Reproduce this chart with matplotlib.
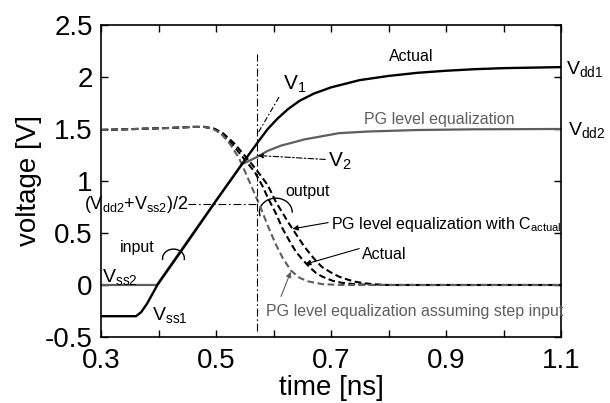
import matplotlib
matplotlib.use("Agg")
import matplotlib.pyplot as plt
from matplotlib.patches import Arc

plt.rcParams["font.family"] = ["Liberation Sans", "DejaVu Sans"]
plt.rcParams["mathtext.fontset"] = "custom"
plt.rcParams["mathtext.rm"] = "Liberation Sans"
plt.rcParams["axes.unicode_minus"] = False

GRAY = "#5e5e5e"

# input waveforms (solid)
t_in_actual = [0.30, 0.361, 0.37, 0.38, 0.398, 0.45, 0.50, 0.55, 0.575, 0.59, 0.607,
               0.625, 0.645, 0.67, 0.70, 0.75, 0.80, 0.85, 0.90, 0.95, 1.00, 1.05, 1.10]
v_in_actual = [-0.30, -0.30, -0.26, -0.18, 0.0, 0.41, 0.81, 1.20, 1.39, 1.50, 1.60,
               1.69, 1.77, 1.84, 1.90, 1.97, 2.01, 2.04, 2.06, 2.075, 2.085, 2.09, 2.095]

t_in_pg = [0.30, 0.397, 0.45, 0.50, 0.545, 0.56, 0.571, 0.59, 0.613, 0.654, 0.714,
           0.766, 0.85, 0.95, 1.10]
v_in_pg = [0.0, 0.0, 0.42, 0.81, 1.16, 1.20, 1.23, 1.29, 1.34, 1.40, 1.46,
           1.476, 1.49, 1.497, 1.50]

# output waveforms (dashed)
t_out_step = [0.30, 0.36, 0.42, 0.46, 0.48, 0.495, 0.51, 0.525, 0.54, 0.556, 0.567,
              0.578, 0.59, 0.604, 0.616, 0.63, 0.645, 0.66, 0.685, 0.72, 1.10]
v_out_step = [1.49, 1.50, 1.51, 1.52, 1.52, 1.50, 1.45, 1.35, 1.22, 1.02, 0.88,
              0.74, 0.57, 0.39, 0.26, 0.14, 0.07, 0.035, 0.008, 0.0, 0.0]

t_out_actual = [0.30, 0.36, 0.42, 0.46, 0.48, 0.498, 0.508, 0.529, 0.552, 0.567, 0.581,
                0.59, 0.604, 0.615, 0.627, 0.639, 0.651, 0.663, 0.674, 0.685, 0.703,
                0.72, 0.74, 0.77, 1.10]
v_out_actual = [1.49, 1.50, 1.51, 1.52, 1.52, 1.50, 1.46, 1.35, 1.19, 1.09, 0.95,
                0.84, 0.69, 0.55, 0.43, 0.32, 0.24, 0.17, 0.115, 0.08, 0.04,
                0.02, 0.008, 0.0, 0.0]

t_out_cact = [0.30, 0.36, 0.42, 0.46, 0.48, 0.498, 0.512, 0.532, 0.555, 0.567, 0.578,
              0.59, 0.604, 0.616, 0.627, 0.639, 0.651, 0.662, 0.674, 0.685, 0.70,
              0.714, 0.73, 0.743, 0.76, 0.78, 0.80, 1.10]
v_out_cact = [1.49, 1.50, 1.51, 1.52, 1.52, 1.50, 1.46, 1.36, 1.21, 1.13, 1.05,
              0.96, 0.80, 0.69, 0.59, 0.49, 0.39, 0.31, 0.23, 0.17, 0.12,
              0.08, 0.05, 0.03, 0.015, 0.005, 0.0, 0.0]

t_cross = 0.571      # time of the vertical guide
v_half = 0.78        # (Vdd2+Vss2)/2 guide level

x_ticks = [0.3, 0.5, 0.7, 0.9, 1.1]
x_minor = [0.4, 0.6, 0.8, 1.0]
y_ticks = [-0.5, 0, 0.5, 1, 1.5, 2, 2.5]
y_labels = ["-0.5", "0", "0.5", "1", "1.5", "2", "2.5"]


def plot_waveforms():
    fig = plt.figure(figsize=(6.1, 4.03), dpi=100)
    ax = fig.add_axes([0.1656, 0.1638, 0.7541, 0.7742])

    dash = (3.2, 1.7)
    ax.plot(t_out_cact, v_out_cact, color="black", lw=1.5, dashes=dash)
    ax.plot(t_out_actual, v_out_actual, color="black", lw=1.5, dashes=dash)
    ax.plot(t_out_step, v_out_step, color=GRAY, lw=1.5, dashes=dash)
    ax.plot(t_in_pg, v_in_pg, color=GRAY, lw=1.6)
    ax.plot(t_in_actual, v_in_actual, color="black", lw=1.7)

    # guide lines
    dd = (7, 2.5, 1.5, 2.5)
    ax.plot([t_cross, t_cross], [-0.44, 2.22], color="black", lw=0.8, dashes=dd)
    ax.plot([0.452, t_cross], [v_half, v_half], color="black", lw=0.8, dashes=dd)
    ax.plot([0.574, 0.61], [1.47, 1.81], color="black", lw=0.8, dashes=(5, 2, 1.5, 2))
    ax.annotate("", xy=(0.573, 1.245), xytext=(0.69, 1.207),
                arrowprops=dict(arrowstyle="-|>", color="black", lw=0.8,
                                linestyle=(0, (5, 2, 1.5, 2)), mutation_scale=7,
                                shrinkA=0, shrinkB=0))

    # brackets around input / output groups
    ax.add_patch(Arc((0.604, 0.70), 0.057, 0.27, theta1=-10, theta2=235,
                     color="black", lw=1.0))
    ax.add_patch(Arc((0.426, 0.255), 0.038, 0.18, theta1=-40, theta2=220,
                     color="black", lw=1.0))

    # arrows to output curves
    arrow = dict(arrowstyle="-|>", color="black", lw=0.8, mutation_scale=8,
                 shrinkA=0, shrinkB=0)
    ax.annotate("", xy=(0.633, 0.54), xytext=(0.695, 0.60), arrowprops=arrow)
    ax.annotate("", xy=(0.655, 0.20), xytext=(0.749, 0.35), arrowprops=arrow)
    garrow = dict(arrow, color=GRAY)
    ax.annotate("", xy=(0.63, 0.127), xytext=(0.613, -0.11), arrowprops=garrow)

    # labels
    ax.text(0.84, 2.2, "Actual", fontsize=11.5, ha="center", va="center")
    ax.text(0.888, 1.59, "PG level equalization", fontsize=11.5, color=GRAY,
            ha="center", va="center")
    ax.text(1.109, 2.08, r"$\mathrm{V_{dd1}}$", fontsize=14, ha="left", va="center")
    ax.text(1.112, 1.49, r"$\mathrm{V_{dd2}}$", fontsize=14, ha="left", va="center")
    ax.text(0.616, 1.93, r"$\mathrm{V_1}$", fontsize=15, ha="left", va="center")
    ax.text(0.694, 1.19, r"$\mathrm{V_2}$", fontsize=15, ha="left", va="center")
    ax.text(0.659, 0.895, "output", fontsize=11.5, ha="center", va="center")
    ax.text(0.70, 0.585, r"PG level equalization with $\mathrm{C_{actual}}$",
            fontsize=11.5, ha="left", va="center")
    ax.text(0.754, 0.29, "Actual", fontsize=11.5, ha="left", va="center")
    ax.text(0.587, -0.256, "PG level equalization assuming step input",
            fontsize=11.5, color=GRAY, ha="left", va="center")
    ax.text(0.363, 0.36, "input", fontsize=11.5, ha="center", va="center")
    ax.text(0.302, 0.08, r"$\mathrm{V_{ss2}}$", fontsize=14, ha="left", va="center")
    ax.text(0.388, -0.29, r"$\mathrm{V_{ss1}}$", fontsize=14, ha="left", va="center")
    ax.text(0.452, v_half - 0.01, r"$\mathrm{(V_{dd2}}$+$\mathrm{V_{ss2})/2}$",
            fontsize=13, ha="right", va="center")

    ax.set_xlim(0.3, 1.1)
    ax.set_ylim(-0.5, 2.5)
    ax.set_xticks(x_ticks)
    ax.set_xticks(x_minor, minor=True)
    ax.set_xticklabels([str(x) for x in x_ticks])
    ax.set_yticks(y_ticks)
    ax.set_yticklabels(y_labels)
    ax.tick_params(which="both", direction="in", top=True, right=True,
                   length=5, width=1)
    ax.tick_params(axis="x", labelsize=20, pad=8)
    ax.tick_params(axis="y", labelsize=20, pad=6)
    for sp in ax.spines.values():
        sp.set_linewidth(1.2)
    ax.set_xlabel("time [ns]", fontsize=20, labelpad=0.5)
    ax.set_ylabel("voltage [V]", fontsize=20, labelpad=2)

    fig.savefig("out.png", dpi=100)


plot_waveforms()
